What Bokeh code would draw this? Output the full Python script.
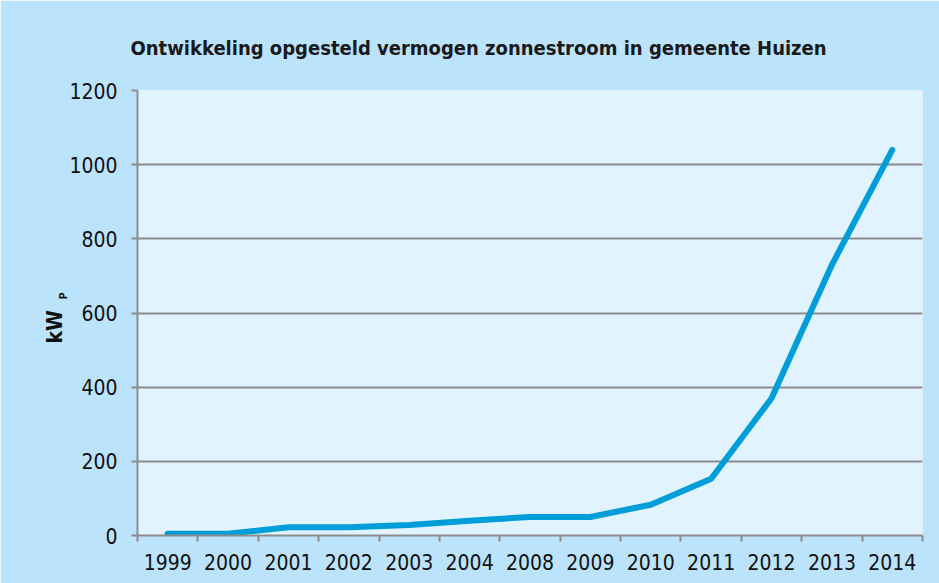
from bokeh.plotting import figure
from bokeh.models import Range1d, FixedTicker, LinearAxis, Title
from bokeh.embed import file_html
from bokeh.resources import INLINE

# ---- data ----
years = ["1999", "2000", "2001", "2002", "2003", "2004", "2008",
         "2009", "2010", "2011", "2012", "2013", "2014"]
kwp = [5, 5, 22, 22, 28, 40, 50, 50, 83, 153, 370, 730, 1040]
y_ticks = [0, 200, 400, 600, 800, 1000, 1200]
title_text = "Ontwikkeling opgesteld vermogen zonnestroom in gemeente Huizen"
y_label = "kW"
y_label_sub = "P"

# ---- styling ----
FONT = "'DejaVu Sans Condensed', sans-serif"
TFONT = "'DejaVu Sans Condensed', sans-serif"
OUTER = "#BBE3FB"
INNER = "#E1F3FE"
LINE = "#009ED9"
GRID = "#8C8C8C"

n = len(years)
xs = [i + 0.5 for i in range(n)]          # category centres
edges = list(range(n + 1))                # category boundaries

p = figure(width=939, height=583, output_backend="svg", toolbar_location=None,
           x_range=Range1d(0, n), y_range=Range1d(0, y_ticks[-1]),
           x_axis_type=None,
           min_border_left=137, min_border_right=17,
           min_border_top=90, min_border_bottom=48)
p.background_fill_color = INNER
p.border_fill_color = OUTER
p.outline_line_color = None

# title
t = Title(text=title_text, align="left", offset=-7, standoff=61,
          text_font=TFONT, text_font_size="20px", text_font_style="bold",
          text_color="#1A1A1A")
p.add_layout(t, "above")

# x axis: labels at centres, tick marks at boundaries (minor ticks)
xa = LinearAxis(ticker=FixedTicker(ticks=xs, minor_ticks=edges),
                major_label_overrides={x: y for x, y in zip(xs, years)})
xa.major_tick_line_color = None
xa.minor_tick_out = 6
xa.minor_tick_in = 0
xa.minor_tick_line_color = GRID
xa.minor_tick_line_width = 2
xa.axis_line_color = GRID
xa.axis_line_width = 2
xa.major_label_standoff = 12
xa.major_label_text_font = FONT
xa.major_label_text_font_size = "21px"
xa.major_label_text_color = "#111111"
p.add_layout(xa, "below")

# y axis
ya = p.yaxis[0]
ya.ticker = FixedTicker(ticks=y_ticks)
ya.major_tick_out = 6
ya.major_tick_in = 0
ya.minor_tick_line_color = None
ya.major_tick_line_color = GRID
ya.major_tick_line_width = 2
ya.axis_line_color = GRID
ya.axis_line_width = 2
ya.major_label_standoff = 14
ya.major_label_text_font = FONT
ya.major_label_text_font_size = "21px"
ya.major_label_text_color = "#111111"

# y axis title "kW" with subscript "P", as two stacked left panels
sub = Title(text=y_label_sub, align="left", offset=236, standoff=-6,
            text_font=TFONT, text_font_size="11px", text_color="#111111")
p.add_layout(sub, "left")
main = Title(text=y_label, align="left", offset=192, standoff=-19,
             text_font=TFONT, text_font_size="21px", text_font_style="bold",
             text_color="#111111")
p.add_layout(main, "left")

p.xgrid.visible = False
p.ygrid.ticker = FixedTicker(ticks=y_ticks)
p.ygrid.grid_line_color = GRID
p.ygrid.grid_line_width = 2

p.line(xs, kwp, line_color=LINE, line_width=6, line_cap="round",
       line_join="round")

open("out.html", "w").write(file_html(p, INLINE))
